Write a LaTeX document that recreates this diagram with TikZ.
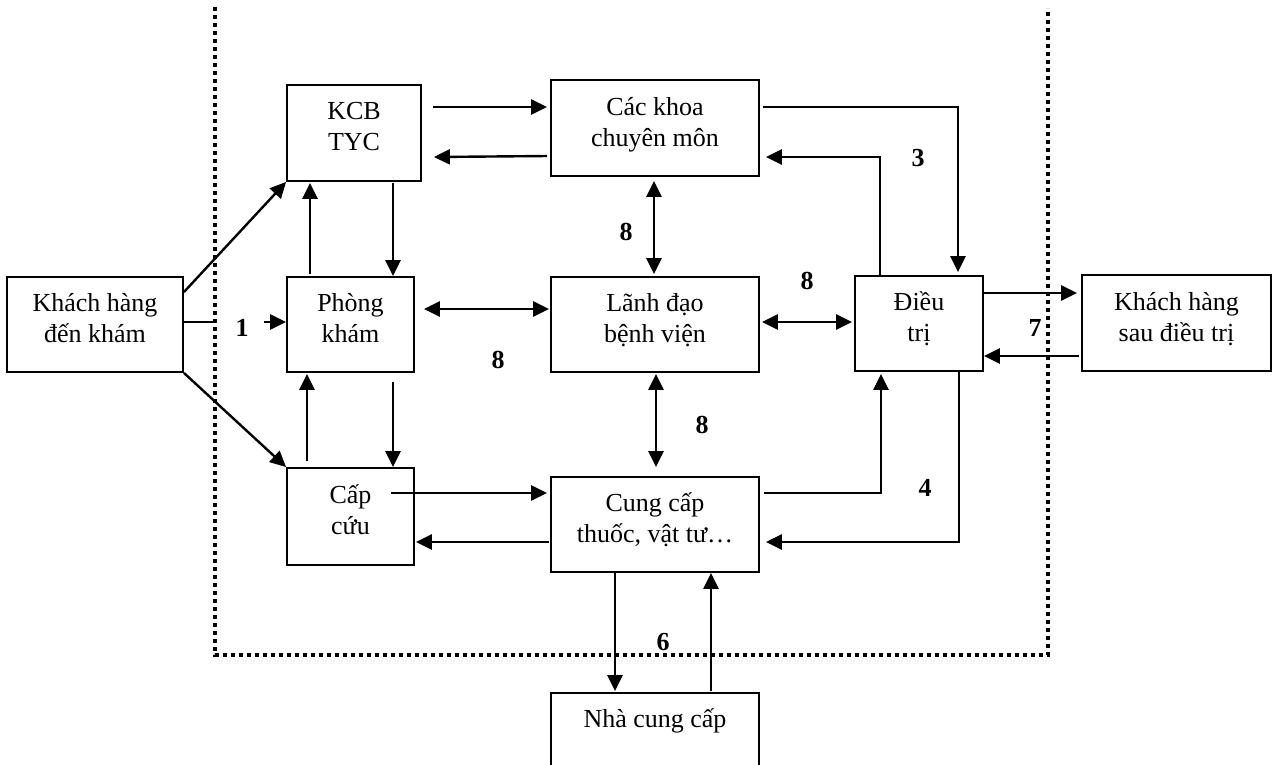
\documentclass[tikz,border=0pt]{standalone}
\usepackage{fontspec}
\setmainfont{Liberation Serif}
\usetikzlibrary{arrows.meta}
\begin{document}
\begin{tikzpicture}[x=1pt,y=-1pt,
  font=\fontsize{26}{31}\selectfont,
  box/.style={draw, line width=1.8pt, align=center, inner sep=0pt, text depth=13pt},
  arr/.style={line width=2.4pt, -{Triangle[length=16pt,width=15pt]}},
  darr/.style={line width=2.4pt, {Triangle[length=16pt,width=15pt]}-{Triangle[length=16pt,width=15pt]}},
  ln/.style={line width=2.4pt},
  num/.style={font=\fontsize{26}{31}\selectfont\bfseries, inner sep=0pt},
  frame/.style={line width=4pt, dash pattern=on 4pt off 4pt}]
\clip (0,0) rectangle (1272,764);
\fill[white] (0,0) rectangle (1272,764);
% boxes
\node[box, minimum width=176pt, minimum height=95pt] (kh) at (95,324.5) {Khách hàng\\đến khám};
\node[box, minimum width=134pt, minimum height=96pt] (kcb) at (354,133) {KCB\\TYC};
\node[box, minimum width=127pt, minimum height=95pt] (pk) at (350.5,324.5) {Phòng\\khám};
\node[box, minimum width=127pt, minimum height=97pt] (cc) at (350.5,516.5) {Cấp\\cứu};
\node[box, minimum width=208pt, minimum height=96pt] (ck) at (655,128) {Các khoa\\chuyên môn};
\node[box, minimum width=208pt, minimum height=95pt] (ld) at (655,324.5) {Lãnh đạo\\bệnh viện};
\node[box, minimum width=208pt, minimum height=95pt] (cu) at (655,524.5) {Cung cấp\\thuốc, vật tư…};
\node[box, minimum width=128pt, minimum height=95pt] (dt) at (919,323.5) {Điều\\trị};
\node[box, minimum width=189pt, minimum height=96pt] (ks) at (1176.5,323) {Khách hàng\\sau điều trị};
\node[box, minimum width=208pt, minimum height=95pt] (ncc) at (655,740.5) {Nhà cung cấp\\\mbox{}};
% frame
\coordinate (f1) at (215,7);
\coordinate (f2) at (215,655);
\coordinate (f3) at (1048,655);
\coordinate (f4) at (1048,8);
\draw[frame] (f1) -- (f2) -- (f3) -- (f4);
% connectors
\draw[arr] ([shift={(11,-26)}]kcb.east) -- ([shift={(-3,-21)}]ck.west);
\draw[arr] ([shift={(-3,28)}]ck.west) -- ([shift={(12,24)}]kcb.east);
\draw[arr] ([shift={(0,16)}]kh.north east) -- (kcb.south west);
\draw[ln] ([shift={(0,-2.5)}]kh.east) -- +(30,0);
\draw[arr] ([shift={(-22,-2.5)}]pk.west) -- ([shift={(0,-2.5)}]pk.west);
\draw[arr] (kh.south east) -- (cc.north west);
\draw[arr] ([shift={(-40.5,-2)}]pk.north) -- ([shift={(-44,1)}]kcb.south);
\draw[arr] ([shift={(39,1)}]kcb.south) -- ([shift={(42.5,0)}]pk.north);
\draw[darr] ([shift={(9,-15.5)}]pk.east) -- ([shift={(-1,-15.5)}]ld.west);
\draw[arr] ([shift={(-43.5,-6)}]cc.north) -- ([shift={(-43.5,1)}]pk.south);
\draw[arr] ([shift={(42.5,9)}]pk.south) -- ([shift={(42.5,0)}]cc.north);
\draw[arr] ([shift={(-24,-23.5)}]cc.east) -- ([shift={(-3,-31.5)}]cu.west);
\draw[arr] ([shift={(-1,17.5)}]cu.west) -- ([shift={(1,25.5)}]cc.east);
\draw[darr] ([shift={(-1,4)}]ck.south) -- ([shift={(-1,-2)}]ld.north);
\draw[darr] ([shift={(1,1)}]ld.south) -- ([shift={(1,-9)}]cu.north);
\draw[darr] ([shift={(2,-2.5)}]ld.east) -- ([shift={(-2,-1.5)}]dt.west);
\draw[arr] ([shift={(3,-21)}]ck.east) -| ([shift={(39,-3)}]dt.north);
\draw[arr] ([shift={(-39,0)}]dt.north) |- ([shift={(6,29)}]ck.east);
\draw[arr] ([shift={(0,-30.5)}]dt.east) -- ([shift={(-4,-30)}]ks.west);
\draw[arr] ([shift={(-2,33)}]ks.west) -- ([shift={(0,32.5)}]dt.east);
\draw[arr] ([shift={(4,-31.5)}]cu.east) -| ([shift={(-38,2)}]dt.south);
\draw[arr] ([shift={(40,0)}]dt.south) |- ([shift={(6,17.5)}]cu.east);
\draw[arr] ([shift={(-40,0)}]cu.south) -- ([shift={(-40,-1)}]ncc.north);
\draw[arr] ([shift={(56,-1)}]ncc.north) -- ([shift={(56,0)}]cu.south);
% labels
\node[num] (n1) at (242,328) {1};
\node[num] (n8a) at (626,232) {8};
\node[num] (n8b) at (498,360) {8};
\node[num] (n8c) at (807,281) {8};
\node[num] (n8d) at (702,425) {8};
\node[num] (n3) at (918,158) {3};
\node[num] (n7) at (1035,328) {7};
\node[num] (n4) at (925,488) {4};
\node[num] (n6) at (663,642) {6};
\end{tikzpicture}
\end{document}
